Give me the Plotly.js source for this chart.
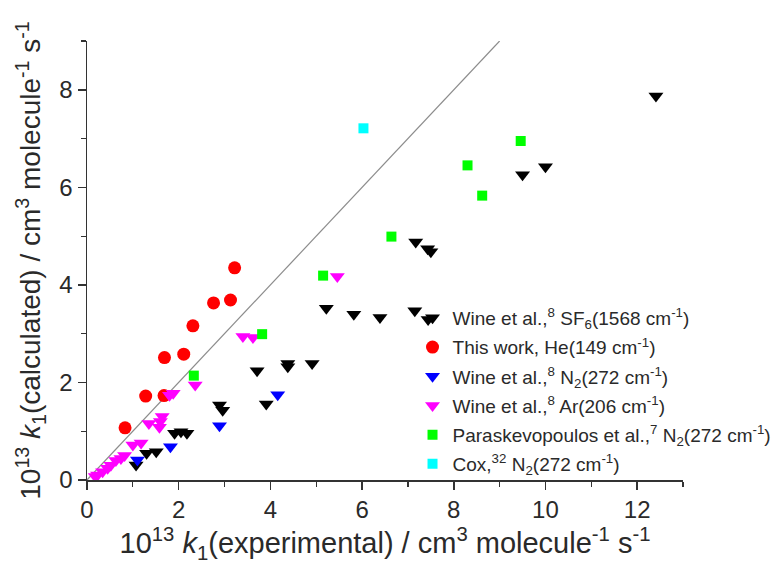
<!DOCTYPE html>
<html>
<head>
<meta charset="utf-8">
<script src="https://cdn.plot.ly/plotly-3.0.1.min.js"></script>
<style>html,body{margin:0;padding:0;background:#fff;}#chart{width:776px;height:570px;}</style>
</head>
<body>
<div id="chart"></div>
<script>
// Wine et al., SF6
const sf6X = [1.07,1.30,1.51,1.91,2.05,2.18,2.89,2.96,3.71,3.91,4.38,4.38,4.91,5.22,5.82,6.39,7.15,7.44,7.17,7.43,7.50,9.50,10.0,12.41];
const sf6Y = [0.31,0.55,0.58,0.96,0.99,0.96,1.54,1.43,2.24,1.56,2.39,2.32,2.39,3.52,3.40,3.33,3.47,3.29,4.88,4.74,4.68,6.26,6.42,7.87];
// This work, He
const heX = [0.83,1.28,1.68,1.69,2.11,2.31,2.76,3.13,3.22];
const heY = [1.07,1.72,1.73,2.51,2.58,3.16,3.63,3.69,4.35];
// Wine et al., N2
const n2X = [1.10,1.82,2.89,4.16];
const n2Y = [0.41,0.68,1.11,1.75];
// Wine et al., Ar
const arX = [0.18,0.23,0.34,0.45,0.52,0.63,0.74,0.82,1.00,1.18,1.35,1.58,1.64,1.60,1.80,1.88,2.36,3.40,3.62,5.46];
const arY = [0.07,0.10,0.17,0.24,0.30,0.40,0.44,0.50,0.72,0.76,1.16,1.08,1.30,1.20,1.74,1.78,1.95,2.94,2.92,4.17];
// Paraskevopoulos et al., N2
const parX = [2.33,3.82,5.15,6.64,8.30,8.62,9.46];
const parY = [2.14,2.99,4.19,4.99,6.45,5.83,6.95];
// Cox, N2
const coxX = [6.03];
const coxY = [7.21];
// y = x reference line
const refX = [0,9];
const refY = [0,9];

const names = [
  'Wine et al.,<sup>8</sup> SF<sub>6</sub>(1568 cm<sup>-1</sup>)',
  'This work, He(149 cm<sup>-1</sup>)',
  'Wine et al.,<sup>8</sup> N<sub>2</sub>(272 cm<sup>-1</sup>)',
  'Wine et al.,<sup>8</sup> Ar(206 cm<sup>-1</sup>)',
  'Paraskevopoulos et al.,<sup>7</sup> N<sub>2</sub>(272 cm<sup>-1</sup>)',
  'Cox,<sup>32</sup> N<sub>2</sub>(272 cm<sup>-1</sup>)'
];

const traces = [
  {x: refX, y: refY, mode: 'lines', line: {color: '#8c8c8c', width: 1.2}, showlegend: false, hoverinfo: 'skip'},
  {x: sf6X, y: sf6Y, mode: 'markers', name: names[0], legendgroup: 'a', marker: {symbol: 'triangle-down', color: '#000000', size: 13}},
  {x: heX, y: heY, mode: 'markers', name: names[1], legendgroup: 'b', marker: {symbol: 'circle', color: '#ff0000', size: 13}},
  {x: n2X, y: n2Y, mode: 'markers', name: names[2], legendgroup: 'c', marker: {symbol: 'triangle-down', color: '#0000ff', size: 13}},
  {x: arX, y: arY, mode: 'markers', name: names[3], legendgroup: 'd', marker: {symbol: 'triangle-down', color: '#ff00ff', size: 13}},
  {x: parX, y: parY, mode: 'markers', name: names[4], legendgroup: 'e', marker: {symbol: 'square', color: '#00ff00', size: 10}},
  {x: coxX, y: coxY, mode: 'markers', name: names[5], legendgroup: 'f', marker: {symbol: 'square', color: '#00ffff', size: 10}}
];

const axisCommon = {
  showgrid: false, zeroline: false, showline: true, linecolor: '#333', linewidth: 1.5,
  ticks: 'outside', ticklen: 8, tickwidth: 1.5, tickcolor: '#333',
  tickfont: {family: 'Liberation Sans, Arial, sans-serif', size: 24, color: '#2a2a2a'},
  minor: {dtick: 1, ticks: 'outside', ticklen: 5, tickwidth: 1.2, tickcolor: '#333'}
};

const layout = {
  width: 776, height: 570,
  margin: {l: 87, r: 93, t: 41, b: 90, autoexpand: false},
  paper_bgcolor: '#fff', plot_bgcolor: '#fff',
  font: {family: 'Liberation Sans, Arial, sans-serif', color: '#2a2a2a'},
  xaxis: Object.assign({}, axisCommon, {
    range: [0, 13], dtick: 2, tick0: 0, automargin: false,
    title: {text: '10<sup>13</sup> <i>k</i><sub>1</sub>(experimental) / cm<sup>3</sup> molecule<sup>-1</sup> s<sup>-1</sup>',
            font: {size: 29, color: '#2a2a2a'}, standoff: 2}
  }),
  yaxis: Object.assign({}, axisCommon, {
    range: [0, 9], dtick: 2, tick0: 0, automargin: false,
    title: {text: '10<sup>13</sup> <i>k</i><sub>1</sub>(calculated) / cm<sup>3</sup> molecule<sup>-1</sup> s<sup>-1</sup>',
            font: {size: 28, color: '#2a2a2a'}, standoff: 10}
  }),
  legend: {
    xref: 'container', yref: 'container',
    x: 0.5316, y: 0.4754, xanchor: 'left', yanchor: 'top',
    traceorder: 'grouped', tracegroupgap: 1.5,
    bgcolor: 'rgba(0,0,0,0)', font: {size: 19, color: '#2a2a2a'}
  },
  showlegend: true
};

Plotly.newPlot('chart', traces, layout, {displayModeBar: false, staticPlot: true});
</script>
</body>
</html>
